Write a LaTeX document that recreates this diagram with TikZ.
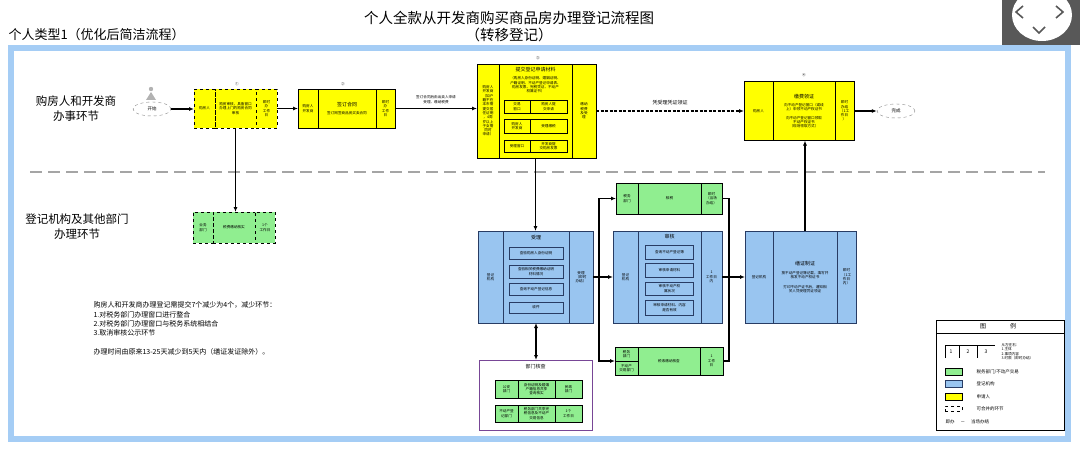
\documentclass[tikz,border=0pt]{standalone}
\usepackage{fontspec}
\setmainfont{Noto Sans CJK SC}
\usetikzlibrary{shapes, arrows.meta, positioning}

\definecolor{cellyellow}{RGB}{255,255,0}
\definecolor{cellblue}{RGB}{153,197,240}
\definecolor{cellgreen}{RGB}{144,238,144}
\definecolor{framebl}{RGB}{165,205,245}
\definecolor{laneline}{RGB}{165,165,165}
\definecolor{boxpurple}{RGB}{120,70,150}
\definecolor{bluedge}{RGB}{40,60,100}
\definecolor{widgetgray}{RGB}{88,88,88}

\newcommand{\tinytxt}{\fontsize{3.6}{4.3}\selectfont}
\newcommand{\celltitle}{\fontsize{5}{6}\selectfont}

\begin{document}
\begin{tikzpicture}[x=1pt, y=1pt]
    \tikzstyle{cell}=[draw, outer sep=0pt, inner sep=0.5pt, align=center
    , font=\tinytxt, line width=0.6pt]
    \tikzstyle{ycell}=[cell, fill=cellyellow]
    \tikzstyle{bcell}=[cell, fill=cellblue, draw=bluedge, line width=0.9pt]
    \tikzstyle{gcell}=[cell, fill=cellgreen]
    \tikzstyle{sub}=[cell, line width=0.5pt]
    \tikzstyle{bsub}=[sub, fill=cellblue, draw=bluedge, line width=0.8pt]
    \tikzstyle{endpoint}=[ellipse, draw=black!50, dashed, minimum width=38pt
    , minimum height=14pt, inner sep=0pt, font=\fontsize{4.5}{5}\selectfont]
    \tikzstyle{flow}=[-{Latex[length=5pt, width=4pt]}, line width=1.3pt]
    \tikzstyle{lane}=[font=\fontsize{11.5}{15}\selectfont, align=center]

    \useasboundingbox (0,0) rectangle (1080,-452);

    % frame and screen widget
    \draw[framebl, line width=5.5pt] (11,-48) rectangle (1068,-439);
    \begin{scope}
        \clip (1002,0) rectangle (1080,-45);
        \fill[widgetgray] (1002,0) rectangle (1080,-45);
        \fill[white] (1042,-15) ellipse [x radius=30pt, y radius=26pt];
    \end{scope}
    \draw[widgetgray, line width=1.6pt] (1023,-6) -- (1016,-12) -- (1023,-18);
    \draw[widgetgray, line width=1.6pt] (1056,-6) -- (1063,-12) -- (1056,-18);
    \draw[widgetgray, line width=1.6pt] (1033,-27) -- (1039,-33) -- (1045,-27);

    % titles
    \node[font=\fontsize{14.5}{17}\selectfont, align=center] (title) at (509,-26.5)
    {个人全款从开发商购买商品房办理登记流程图\\（转移登记）};
    \node[font=\fontsize{13}{15}\selectfont, anchor=west] (kind) at (5,-35)
    {个人类型1（优化后简洁流程）};

    % lanes
    \node[lane] (lane1) at (76,-109) {购房人和开发商\\办事环节};
    \node[lane] (lane2) at (77,-227) {登记机构及其他部门\\办理环节};
    \draw[laneline, line width=2.5pt, dash pattern=on 12pt off 6pt] (30,-172) -- (1045,-172);

    % start
    \node[endpoint] (start) at (152,-109) {开始};
    \fill[black!30] (151,-89) circle (2.2pt);
    \fill[black!30] (146,-100) -- (151,-92) -- (156,-100) -- cycle;

    % step 1
    \node[ycell, dashed, minimum width=41pt, minimum height=39pt] (b1) at (235.5,-108.5)
    {购房审核，具备窗口\\办理上门的购房合同\\审核};
    \node[ycell, dashed, minimum width=21pt, minimum height=39pt, left=0pt of b1] (b1l) {购房人};
    \node[ycell, dashed, minimum width=21pt, minimum height=39pt, right=0pt of b1] (b1r) {即时\\办\\工作\\日};
    \node[font=\tinytxt] (n1) at (237,-84) {①};

    % step 2
    \node[ycell, minimum width=58pt, minimum height=39pt] (b2) at (347,-108.5)
    {{\celltitle 签订合同}\\[4pt]签订网签商品房买卖合同};
    \node[ycell, minimum width=20pt, minimum height=39pt, left=0pt of b2] (b2l) {购房人\\开发商};
    \node[ycell, minimum width=19pt, minimum height=39pt, right=0pt of b2] (b2r) {即时\\办\\工作\\日};
    \node[font=\tinytxt] (n2) at (343,-84) {②};

    % step 3
    \node[ycell, minimum width=73pt, minimum height=94pt] (b3) at (535.5,-111) {};
    \node[ycell, minimum width=22pt, minimum height=94pt, left=0pt of b3] (b3l)
    {购房人\\开发商\\（如户\\籍不在\\本市需\\提交居\\住证明\\，4周\\岁以上\\子女需\\同时\\申请）};
    \node[ycell, minimum width=24pt, minimum height=94pt, right=0pt of b3] (b3r) {缴纳\\税费\\及受\\理};
    \node[font=\tinytxt] (n3) at (538,-58) {③};
    \node[font=\celltitle] (b3t) at (535.5,-70) {提交登记申请材料};
    \node[font=\tinytxt, align=center] (b3p) at (535.5,-85)
    {（购房人身份证明、婚姻证明、\\户籍证明、不动产登记申请表、\\购房发票、完税凭证、不动产\\权属证书）};
    \node[sub, fill=cellyellow, minimum width=26pt, minimum height=13pt] (s1a) at (517,-106.5) {交易\\窗口};
    \node[sub, fill=cellyellow, minimum width=37pt, minimum height=13pt, right=0pt of s1a] (s1b) {购房人提\\交申请};
    \node[sub, fill=cellyellow, minimum width=26pt, minimum height=14pt] (s2a) at (517,-126) {购房人\\开发商};
    \node[sub, fill=cellyellow, minimum width=37pt, minimum height=14pt, right=0pt of s2a] (s2b) {受理缴税};
    \node[sub, fill=cellyellow, minimum width=26pt, minimum height=12pt] (s3a) at (517,-146) {受理窗口};
    \node[sub, fill=cellyellow, minimum width=37pt, minimum height=12pt, right=0pt of s3a] (s3b) {开发商提\\交购房发票};

    % step 4
    \node[ycell, minimum width=62pt, minimum height=59pt] (b4) at (804,-111)
    {{\celltitle 缴费领证}\\[4pt]向不动产登记窗口（或线\\上）申领不动产权证书\\[4pt]向不动产登记窗口领取\\不动产权证书\\（现场领取方式）};
    \node[ycell, minimum width=29pt, minimum height=59pt, left=0pt of b4] (b4l) {购房人};
    \node[ycell, minimum width=19pt, minimum height=59pt, right=0pt of b4] (b4r) {即时\\办结\\（1工\\作日\\）};
    \node[font=\tinytxt] (n4) at (804,-75) {④};

    \node[endpoint] (fin) at (896,-111) {完成};

    % tax check
    \node[gcell, dashed, minimum width=42pt, minimum height=31pt] (g1) at (234,-227.5) {税费缴纳核实};
    \node[gcell, dashed, minimum width=20pt, minimum height=31pt, left=0pt of g1] (g1l) {业务\\部门};
    \node[gcell, dashed, minimum width=20pt, minimum height=31pt, right=0pt of g1] (g1r) {1个\\工作日};

    % acceptance
    \node[bcell, minimum width=66pt, minimum height=92pt] (sl) at (536,-277) {};
    \node[bcell, minimum width=25pt, minimum height=92pt, left=0pt of sl] (sll) {登记\\机构};
    \node[bcell, minimum width=24pt, minimum height=92pt, right=0pt of sl] (slr) {受理\\（即时\\办结）};
    \node[font=\celltitle] (slt) at (536,-238) {受理};
    \node[bsub, minimum width=54pt, minimum height=12pt] (sl1) at (536,-253) {查验购房人身份证明};
    \node[bsub, minimum width=54pt, minimum height=13pt] (sl2) at (536,-271.5) {查验相关税费缴纳证明\\材料情况};
    \node[bsub, minimum width=54pt, minimum height=12pt] (sl3) at (536,-289) {查询不动产登记信息};
    \node[bsub, minimum width=54pt, minimum height=11pt] (sl4) at (536,-307.5) {收件};

    % check by other departments
    \node[draw=boxpurple, line width=1pt, minimum width=113pt, minimum height=70pt, outer sep=0pt] (jd) at (535.5,-395) {};
    \node[font=\celltitle] (jdt) at (535.5,-367) {部门核查};
    \node[sub, fill=cellgreen, minimum width=37pt, minimum height=18pt] (p1b) at (536.5,-389) {身份证明及婚姻\\户籍信息共享\\查询核实};
    \node[sub, fill=cellgreen, minimum width=23pt, minimum height=18pt, left=0pt of p1b] (p1a) {公安\\部门};
    \node[sub, fill=cellgreen, minimum width=27pt, minimum height=18pt, right=0pt of p1b] (p1c) {民政\\部门};
    \node[sub, fill=cellgreen, minimum width=37pt, minimum height=17pt] (p2b) at (536.5,-413.5) {税务部门共享完\\税信息及不动产\\交易信息};
    \node[sub, fill=cellgreen, minimum width=23pt, minimum height=17pt, left=0pt of p2b] (p2a) {不动产登\\记部门};
    \node[sub, fill=cellgreen, minimum width=27pt, minimum height=17pt, right=0pt of p2b] (p2c) {1个\\工作日};

    % tax office
    \node[gcell, minimum width=63pt, minimum height=31pt] (gt) at (669.5,-198.5) {核税};
    \node[gcell, minimum width=22pt, minimum height=31pt, left=0pt of gt] (gtl) {税务\\部门};
    \node[gcell, minimum width=21pt, minimum height=31pt, right=0pt of gt] (gtr) {即时\\（当场\\办结）};

    % review
    \node[bcell, minimum width=63pt, minimum height=92pt] (sh) at (669.5,-277) {};
    \node[bcell, minimum width=25pt, minimum height=92pt, left=0pt of sh] (shl) {登记\\机构};
    \node[bcell, minimum width=21pt, minimum height=92pt, right=0pt of sh] (shr) {1\\工作日\\内};
    \node[font=\celltitle] (sht) at (669.5,-237) {审核};
    \node[bsub, minimum width=48pt, minimum height=14pt] (sh1) at (669.5,-252) {查询不动产登记簿};
    \node[bsub, minimum width=48pt, minimum height=14pt] (sh2) at (669.5,-270) {审核申请材料};
    \node[bsub, minimum width=48pt, minimum height=13pt] (sh3) at (669.5,-288.5) {审核不动产权\\属状况};
    \node[bsub, minimum width=48pt, minimum height=15pt] (sh4) at (669.5,-307.5) {审核申请材料、内容\\是否有效};

    % tax payment
    \node[gcell, minimum width=62pt, minimum height=28pt] (gb) at (669,-361) {税收缴纳核查};
    \node[gcell, minimum width=23pt, minimum height=14pt, anchor=south east] (gbl1) at (gb.west) {税务\\部门};
    \node[gcell, minimum width=23pt, minimum height=14pt, anchor=north east] (gbl2) at (gb.west) {不动产\\交易部门};
    \node[gcell, minimum width=23pt, minimum height=28pt, right=0pt of gb] (gbr) {1\\工作\\日};

    % certificate
    \node[bcell, minimum width=64pt, minimum height=92pt] (ss) at (805,-277)
    {{\celltitle 缮证制证}\\[5pt]按不动产登记簿记载，填写并\\核发不动产权证书\\[5pt]打印不动产证书后，通知相\\关人凭受理凭证领证};
    \node[bcell, minimum width=28pt, minimum height=92pt, left=0pt of ss] (ssl) {登记机构};
    \node[bcell, minimum width=19pt, minimum height=92pt, right=0pt of ss] (ssr) {即时\\（1工\\作日\\内）};

    % arrows
    \draw[flow] (start.east) -- (start.east -| b1l.west);
    \draw[flow] (b1r) -- (b2l);
    \draw[flow] (b2r.east) -- (b2r.east -| b3l.west)
    node[midway, above=1pt, font=\tinytxt, align=center] {签订合同后由出卖人申请\\受理、缴纳税费};
    \draw[flow, dash pattern=on 3pt off 1.5pt] (b3r.east) -- (b4l.west)
    node[midway, above=2pt, font=\fontsize{5}{6}\selectfont] {凭受理凭证领证};
    \draw[flow] (b4r.east) -- (fin.west);
    \draw[flow] (b1.south) -- (b1.south |- g1.north);
    \draw[flow] (b3.south) -- (b3.south |- sl.north);
    \draw[{Latex[length=5pt, width=4pt]}-{Latex[length=5pt, width=4pt]}, line width=1.3pt]
    (sl.south) -- (sl.south |- jd.north);
    \draw[flow] (slr.east) -- (shl.west);
    \coordinate (jl) at (599,-277);
    \draw[flow] (jl) |- (gtl.west);
    \draw[flow] (jl) |- (gbl1.south west);
    \coordinate (jr) at (729,-277);
    \draw[line width=1.3pt] (gtr.east) -| (jr) |- (gbr.east);
    \draw[flow] (shr.east) -- (ssl.west);
    \draw[flow] (ss.north) -- (ss.north |- b4.south);

    % note
    \node[font=\fontsize{7}{9.3}\selectfont, align=left, anchor=west] (note) at (90,-319)
    {购房人和开发商办理登记需提交7个减少为4个，减少环节：\\1.对税务部门办理窗口进行整合\\2.对税务部门办理窗口与税务系统相结合\\3.取消审核公示环节};
    \node[font=\fontsize{7}{9.3}\selectfont, anchor=west] (note2) at (90,-352)
    {办理时间由原来13-25天减少到5天内（缮证发证除外）。};

    % legend
    \node[draw, line width=0.6pt, minimum width=128pt, minimum height=110pt, outer sep=0pt] (leg) at (1000.5,-375) {};
    \draw[line width=0.6pt] ([yshift=-13pt]leg.north west) -- ([yshift=-13pt]leg.north east);
    \node[font=\fontsize{6}{7}\selectfont] (legt) at (998,-326.5) {图\hspace{24pt}例};
    \draw[line width=0.7pt] (945,-358) -- (945,-345) -- (995,-345);
    \draw[line width=0.4pt] (959,-345) -- (959,-358);
    \draw[line width=0.4pt] (977,-345) -- (977,-358);
    \node[font=\fontsize{5}{6}\selectfont] (lc1) at (951,-352) {1};
    \node[font=\fontsize{5}{6}\selectfont] (lc2) at (968,-352) {2};
    \node[font=\fontsize{5}{6}\selectfont] (lc3) at (986,-352) {3};
    \node[font=\tinytxt, align=left, anchor=north west] (lct) at (998,-340)
    {从左往右：\\1.主体\\2.事项内容\\3.时限（即时办结）};
    \node[gcell, minimum width=17pt, minimum height=7pt] (lg1) at (953.5,-371.5) {};
    \node[font=\fontsize{4.5}{5}\selectfont, anchor=west] (lg1t) at (973,-371.5) {税务部门/不动产交易};
    \node[bcell, minimum width=17pt, minimum height=7pt] (lg2) at (953.5,-383.5) {};
    \node[font=\fontsize{4.5}{5}\selectfont, anchor=west] (lg2t) at (973,-383.5) {登记机构};
    \node[ycell, minimum width=17pt, minimum height=7pt] (lg3) at (953.5,-396.5) {};
    \node[font=\fontsize{4.5}{5}\selectfont, anchor=west] (lg3t) at (973,-396.5) {申请人};
    \node[cell, dashed, minimum width=17pt, minimum height=5pt] (lg4) at (953.5,-408.5) {};
    \node[font=\fontsize{4.5}{5}\selectfont, anchor=west] (lg4t) at (973,-408.5) {可合并的环节};
    \node[font=\fontsize{4.5}{5}\selectfont, anchor=west] (lg5t) at (942,-422) {即办\hspace{6pt}－\hspace{6pt}当场办结};

\end{tikzpicture}
\end{document}
